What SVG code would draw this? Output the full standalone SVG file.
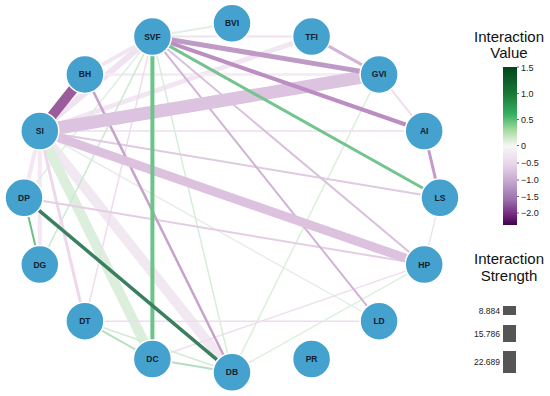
<svg xmlns="http://www.w3.org/2000/svg" width="550" height="396" viewBox="0 0 550 396">
<defs>
<linearGradient id="cb" x1="0" y1="0" x2="0" y2="1">
<stop offset="0" stop-color="#00441b"/>
<stop offset="0.17" stop-color="#1b7837"/>
<stop offset="0.3" stop-color="#35b060"/>
<stop offset="0.4" stop-color="#a6dba0"/>
<stop offset="0.5" stop-color="#f7f7f7"/>
<stop offset="0.62" stop-color="#e7d4e8"/>
<stop offset="0.73" stop-color="#c2a5cf"/>
<stop offset="0.84" stop-color="#9970ab"/>
<stop offset="0.93" stop-color="#762a83"/>
<stop offset="1" stop-color="#40004b"/>
</linearGradient>
</defs>
<style>
.e{fill:none;stroke-linecap:butt}
.n circle{fill:#45a2cf;stroke:#ffffff;stroke-width:1.5}
.n text{font-family:"Liberation Sans",Arial,sans-serif;font-size:8.5px;font-weight:bold;fill:#13202c;text-anchor:middle}
.t{font-family:"Liberation Sans",Arial,sans-serif;font-size:15px;fill:#111;text-anchor:middle}
.k{font-family:"Liberation Sans",Arial,sans-serif;font-size:9px;fill:#222}
.s{font-family:"Liberation Sans",Arial,sans-serif;font-size:8.5px;fill:#222;text-anchor:end}
</style>
<rect width="550" height="396" fill="#ffffff"/>
<g id="connectors">
<line class="e" x1="39.8" y1="131" x2="232" y2="372.3" stroke="#f1e8f1" stroke-width="10"/>
<line class="e" x1="39.8" y1="131" x2="152.4" y2="359" stroke="#dcefdd" stroke-width="10"/>
<line class="e" x1="39.8" y1="131" x2="152.4" y2="36.6" stroke="#f0e2f0" stroke-width="6"/>
<line class="e" x1="84.9" y1="74.4" x2="152.4" y2="36.6" stroke="#f2e6f2" stroke-width="4"/>
<line class="e" x1="39.8" y1="131" x2="311.6" y2="36.6" stroke="#f1e6f1" stroke-width="5"/>
<line class="e" x1="84.9" y1="74.4" x2="379.1" y2="74.4" stroke="#f5ecf5" stroke-width="3"/>
<line class="e" x1="152.4" y1="36.6" x2="232" y2="23.3" stroke="#e0f1e3" stroke-width="2"/>
<line class="e" x1="152.4" y1="36.6" x2="311.6" y2="36.6" stroke="#efe3ef" stroke-width="2"/>
<line class="e" x1="39.8" y1="131" x2="39.8" y2="264.6" stroke="#f5e7f3" stroke-width="4"/>
<line class="e" x1="39.8" y1="131" x2="24" y2="197.8" stroke="#f4e6f2" stroke-width="4"/>
<line class="e" x1="39.8" y1="131" x2="379.1" y2="321.2" stroke="#e6eee8" stroke-width="1.5"/>
<line class="e" x1="39.8" y1="131" x2="424.2" y2="131" stroke="#f3e6f3" stroke-width="2"/>
<line class="e" x1="379.1" y1="74.4" x2="424.2" y2="131" stroke="#efdcef" stroke-width="2"/>
<line class="e" x1="440" y1="197.8" x2="424.2" y2="264.6" stroke="#ebe5f2" stroke-width="1.5"/>
<line class="e" x1="152.4" y1="36.6" x2="39.8" y2="264.6" stroke="#cde9d2" stroke-width="1.5"/>
<line class="e" x1="152.4" y1="36.6" x2="24" y2="197.8" stroke="#dcefe0" stroke-width="1.5"/>
<line class="e" x1="152.4" y1="36.6" x2="84.9" y2="321.2" stroke="#efdcee" stroke-width="1.5"/>
<line class="e" x1="152.4" y1="36.6" x2="232" y2="372.3" stroke="#d6eed9" stroke-width="1.5"/>
<line class="e" x1="379.1" y1="74.4" x2="232" y2="372.3" stroke="#dbefdc" stroke-width="1.5"/>
<line class="e" x1="424.2" y1="264.6" x2="232" y2="372.3" stroke="#def0df" stroke-width="1.5"/>
<line class="e" x1="424.2" y1="264.6" x2="152.4" y2="359" stroke="#efdeee" stroke-width="1.5"/>
<line class="e" x1="84.9" y1="321.2" x2="379.1" y2="321.2" stroke="#efdcee" stroke-width="1.5"/>
<line class="e" x1="84.9" y1="321.2" x2="232" y2="372.3" stroke="#d3ebd5" stroke-width="1.5"/>
<line class="e" x1="39.8" y1="131" x2="84.9" y2="321.2" stroke="#efd8ec" stroke-width="3"/>
<line class="e" x1="24" y1="197.8" x2="424.2" y2="264.6" stroke="#e6cde6" stroke-width="2"/>
<line class="e" x1="39.8" y1="131" x2="440" y2="197.8" stroke="#e0c9e3" stroke-width="2"/>
<line class="e" x1="152.4" y1="36.6" x2="424.2" y2="264.6" stroke="#d9c0dc" stroke-width="2"/>
<line class="e" x1="152.4" y1="36.6" x2="379.1" y2="321.2" stroke="#d0b3d6" stroke-width="2"/>
<line class="e" x1="84.9" y1="74.4" x2="232" y2="372.3" stroke="#c6a2cc" stroke-width="2.5"/>
<line class="e" x1="311.6" y1="36.6" x2="379.1" y2="74.4" stroke="#d2b2d6" stroke-width="3"/>
<line class="e" x1="424.2" y1="131" x2="440" y2="197.8" stroke="#c59acb" stroke-width="3"/>
<line class="e" x1="84.9" y1="321.2" x2="152.4" y2="359" stroke="#b5dfbd" stroke-width="2"/>
<line class="e" x1="152.4" y1="359" x2="232" y2="372.3" stroke="#b5dfbd" stroke-width="2"/>
<line class="e" x1="24" y1="197.8" x2="39.8" y2="264.6" stroke="#6cbf85" stroke-width="2"/>
<line class="e" x1="39.8" y1="131" x2="424.2" y2="264.6" stroke="#dcc2df" stroke-width="9"/>
<line class="e" x1="39.8" y1="131" x2="379.1" y2="74.4" stroke="#dcc3e0" stroke-width="13"/>
<line class="e" x1="152.4" y1="36.6" x2="440" y2="197.8" stroke="#74c48e" stroke-width="3"/>
<line class="e" x1="152.4" y1="36.6" x2="152.4" y2="359" stroke="#6cc488" stroke-width="4"/>
<line class="e" x1="24" y1="197.8" x2="232" y2="372.3" stroke="#3a8060" stroke-width="3.5"/>
<line class="e" x1="152.4" y1="36.6" x2="379.1" y2="74.4" stroke="#c09ac6" stroke-width="5"/>
<line class="e" x1="152.4" y1="36.6" x2="424.2" y2="131" stroke="#bb8ec2" stroke-width="4"/>
<line class="e" x1="39.8" y1="131" x2="84.9" y2="74.4" stroke="#9c5b9b" stroke-width="10"/>
</g>
<g id="SVF" class="n"><circle cx="152.4" cy="36.6" r="19"/><text x="152.4" y="39.6">SVF</text></g>
<g id="BVI" class="n"><circle cx="232" cy="23.3" r="19"/><text x="232" y="26.3">BVI</text></g>
<g id="TFI" class="n"><circle cx="311.6" cy="36.6" r="19"/><text x="311.6" y="39.6">TFI</text></g>
<g id="GVI" class="n"><circle cx="379.1" cy="74.4" r="19"/><text x="379.1" y="77.4">GVI</text></g>
<g id="AI" class="n"><circle cx="424.2" cy="131" r="19"/><text x="424.2" y="134">AI</text></g>
<g id="LS" class="n"><circle cx="440" cy="197.8" r="19"/><text x="440" y="200.8">LS</text></g>
<g id="HP" class="n"><circle cx="424.2" cy="264.6" r="19"/><text x="424.2" y="267.6">HP</text></g>
<g id="LD" class="n"><circle cx="379.1" cy="321.2" r="19"/><text x="379.1" y="324.2">LD</text></g>
<g id="PR" class="n"><circle cx="311.6" cy="359" r="19"/><text x="311.6" y="362">PR</text></g>
<g id="DB" class="n"><circle cx="232" cy="372.3" r="19"/><text x="232" y="375.3">DB</text></g>
<g id="DC" class="n"><circle cx="152.4" cy="359" r="19"/><text x="152.4" y="362">DC</text></g>
<g id="DT" class="n"><circle cx="84.9" cy="321.2" r="19"/><text x="84.9" y="324.2">DT</text></g>
<g id="DG" class="n"><circle cx="39.8" cy="264.6" r="19"/><text x="39.8" y="267.6">DG</text></g>
<g id="DP" class="n"><circle cx="24" cy="197.8" r="19"/><text x="24" y="200.8">DP</text></g>
<g id="SI" class="n"><circle cx="39.8" cy="131" r="19"/><text x="39.8" y="134">SI</text></g>
<g id="BH" class="n"><circle cx="84.9" cy="74.4" r="19"/><text x="84.9" y="77.4">BH</text></g>
<g id="legend-value">
<text class="t" x="509" y="42">Interaction</text>
<text class="t" x="509" y="58">Value</text>
<rect x="503" y="67" width="14" height="158" fill="url(#cb)"/>
<g stroke="#444" stroke-width="0.8">
<line x1="517" y1="67" x2="519" y2="67"/><line x1="517" y1="93.5" x2="519" y2="93.5"/>
<line x1="517" y1="119.5" x2="519" y2="119.5"/><line x1="517" y1="145.5" x2="519" y2="145.5"/>
<line x1="517" y1="163" x2="519" y2="163"/><line x1="517" y1="180" x2="519" y2="180"/>
<line x1="517" y1="196.5" x2="519" y2="196.5"/><line x1="517" y1="213" x2="519" y2="213"/>
</g>
<text class="k" x="521" y="70.5">1.5</text>
<text class="k" x="521" y="96.5">1.0</text>
<text class="k" x="521" y="122.5">0.5</text>
<text class="k" x="521" y="148.5">0</text>
<text class="k" x="521" y="166">−0.5</text>
<text class="k" x="521" y="183">−1.0</text>
<text class="k" x="521" y="199.5">−1.5</text>
<text class="k" x="521" y="216">−2.0</text>
</g>
<g id="legend-strength">
<text class="t" x="509" y="264">Interaction</text>
<text class="t" x="509" y="281">Strength</text>
<rect x="503" y="306" width="13" height="9" fill="#555555"/>
<rect x="503" y="325" width="13" height="17" fill="#555555"/>
<rect x="503" y="351" width="13" height="22" fill="#555555"/>
<text class="s" x="500" y="314">8.884</text>
<text class="s" x="500" y="337">15.786</text>
<text class="s" x="500" y="365">22.689</text>
</g>
</svg>
